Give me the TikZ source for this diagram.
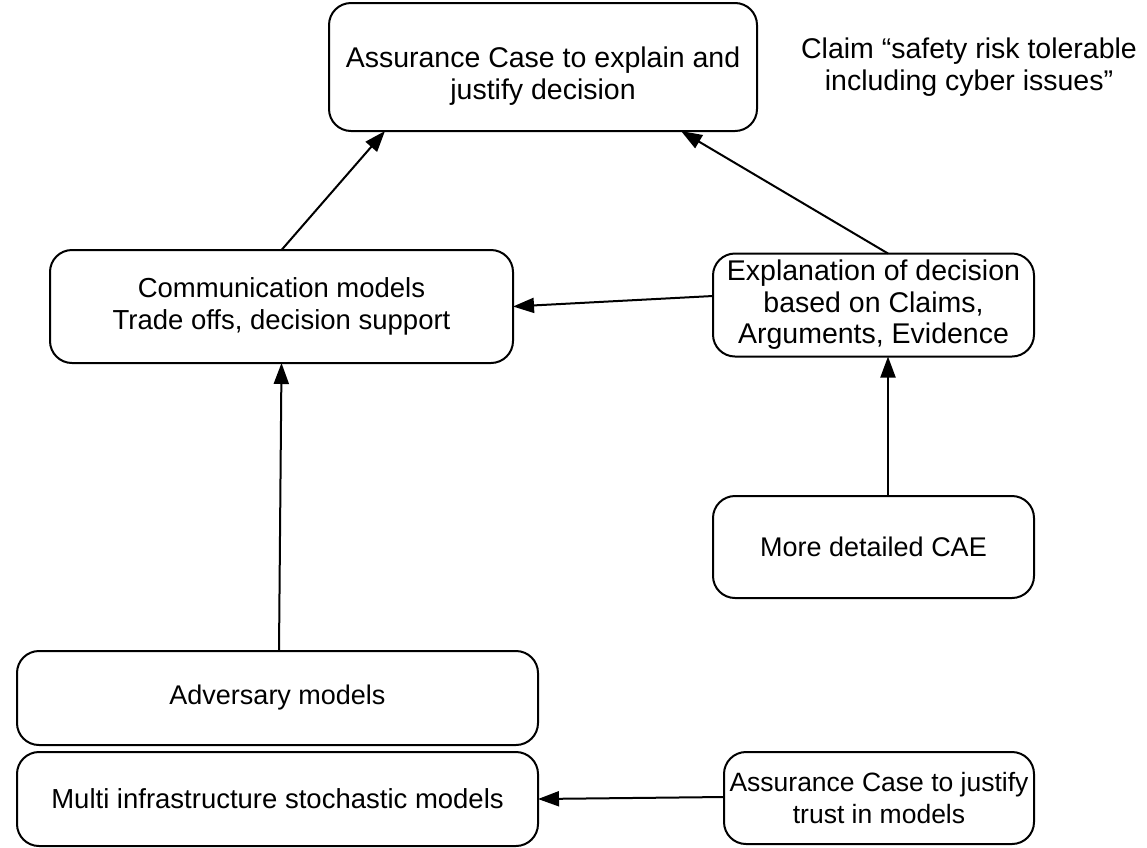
\documentclass[tikz,border=0pt]{standalone}
\usepackage{fontspec}
\setmainfont{Liberation Sans}
\usetikzlibrary{arrows.meta}
\newcommand{\fs}[1]{\fontsize{#1}{31.5}\selectfont}
\begin{document}
\begin{tikzpicture}[x=1pt,y=-1pt,
  box/.style={draw, line width=2pt, rounded corners=22pt, align=center,
    inner sep=0pt, outer sep=0pt, font=\fs{28.5}},
  link/.style={line width=2pt, -{Triangle[length=21pt,width=15pt]}},
  note/.style={align=center, font=\fs{28.5}}]
\useasboundingbox (0,0) rectangle (1147,847);

% boxes (the top box carries its text as a centred label set a little low)
\node[box, minimum width=428pt, minimum height=128pt,
  label={[align=center, font=\fs{28.5}, yshift=-9pt]center:Assurance Case to explain and\\justify decision}]
  (top) at (543,67) {};
\node[box, font=\fs{27.5}, minimum width=463pt, minimum height=113pt] (comm) at (281.5,306.5)
  {Communication models\\Trade offs, decision support};
\node[box, minimum width=321pt, minimum height=103pt] (expl) at (873.5,305)
  {Explanation of decision\\based on Claims,\\Arguments, Evidence};
\node[box, font=\fs{27}, minimum width=321pt, minimum height=102pt] (cae) at (873.5,547)
  {More detailed CAE};
\node[box, font=\fs{27}, minimum width=521pt, minimum height=94pt] (adv) at (277.5,698)
  {Adversary models};
\node[box, font=\fs{27.5}, minimum width=521pt, minimum height=94pt] (multi) at (277.5,799)
  {Multi infrastructure stochastic models};
\node[box, font=\fs{26.5}, minimum width=310pt, minimum height=92pt] (trust) at (879,798)
  {Assurance Case to justify\\trust in models};

% free-standing claim
\node[note] (claim) at (969,67) {Claim “safety risk tolerable\\including cyber issues”};

% connectors
\draw[link] (comm.north) -- ([xshift=-158pt]top.south);
\draw[link] ([xshift=14.5pt]expl.north) -- ([xshift=138pt]top.south);
\draw[link] ([yshift=9pt]expl.west) -- (comm.east);
\draw[link] ([xshift=14.5pt]cae.north) -- ([xshift=14.5pt]expl.south);
\draw[link] ([xshift=1.5pt]adv.north) -- (comm.south);
\draw[link] ([yshift=1pt]trust.west) -- (multi.east);
\end{tikzpicture}
\end{document}
